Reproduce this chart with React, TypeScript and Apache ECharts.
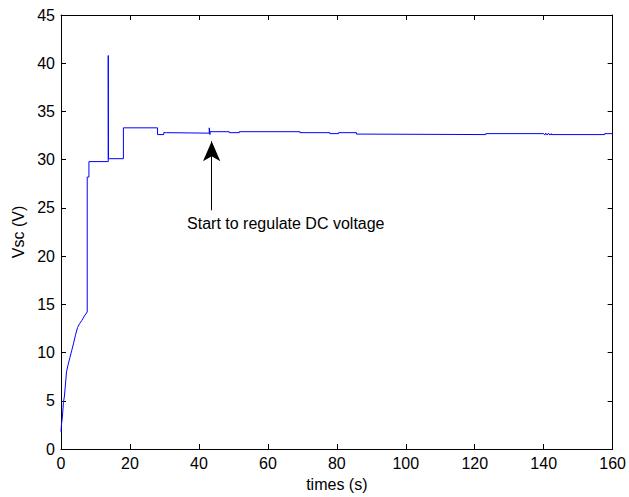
import React, { useEffect, useRef } from "react";
import * as echarts from "echarts";

const timeS: number[] = [
  0, 0.15, 0.4, 0.7, 1.0, 1.6, 2.1, 2.6, 3.1, 3.6, 4.2, 4.8, 5.4, 6.0, 6.8, 7.6,
  7.6, 8.1, 8.1, 13.7, 13.7, 13.75, 18.1, 18.1, 28.0, 28.0, 29.8, 29.8, 30.6, 30.6,
  43.0, 43.0, 43.2, 43.2, 43.4, 43.4, 48.8, 48.8, 51.7, 51.7, 69.3, 69.3, 78.0, 78.0,
  80.5, 80.5, 85.7, 85.7, 88.4, 88.4, 123.2, 123.2, 140.0, 140.3, 140.6, 141.0, 141.4,
  141.8, 142.2, 142.2, 157.7, 157.7, 160,
];
const voltageV: number[] = [
  1.8, 2.6, 3.3, 4.8, 5.5, 8.0, 8.8, 9.5, 10.2, 10.9, 11.8, 12.6, 13.0, 13.3, 13.8, 14.2,
  28.2, 28.2, 29.8, 29.8, 40.8, 30.1, 30.1, 33.3, 33.3, 32.6, 32.6, 32.8, 32.8, 32.75,
  32.75, 33.3, 32.6, 32.9, 32.9, 32.9, 32.9, 32.8, 32.8, 32.9, 32.9, 32.8, 32.8, 32.7,
  32.7, 32.8, 32.8, 32.65, 32.65, 32.6, 32.6, 32.7, 32.7, 32.55, 32.75, 32.55, 32.75,
  32.55, 32.7, 32.6, 32.6, 32.7, 32.7,
];

const xTicks = { min: 0, max: 160, interval: 20 };
const yTicks = { min: 0, max: 45, interval: 5 };

const arrowFrom: [number, number] = [43.7, 24.75];
const arrowTo: [number, number] = [43.7, 31.9];
const noteText = "Start to regulate DC voltage";
const noteAt: [number, number] = [65.2, 23.4];

const FONT = "'Liberation Sans', Arial, sans-serif";

export default function App() {
  const ref = useRef<HTMLDivElement>(null);
  useEffect(() => {
    if (!ref.current) return;
    const chart = echarts.init(ref.current, null, { renderer: "svg" });
    const axisCommon = {
      axisLine: { show: true, onZero: false, lineStyle: { color: "#000", width: 1 } },
      axisTick: { show: true, inside: true, length: 5, lineStyle: { color: "#000" } },
      splitLine: { show: false },
    };
    const labelStyle = { color: "#000", fontSize: 16, fontFamily: FONT };
    chart.setOption({
      animation: false,
      backgroundColor: "#fff",
      textStyle: { fontFamily: FONT },
      grid: { left: 61, right: 14, top: 15, bottom: 45, containLabel: false },
      xAxis: [
        {
          type: "value",
          ...xTicks,
          ...axisCommon,
          axisLabel: { ...labelStyle, margin: 6, showMaxLabel: true, showMinLabel: true },
          name: "times (s)",
          nameLocation: "middle",
          nameGap: 27,
          nameTextStyle: labelStyle,
        },
        {
          type: "value",
          position: "top",
          ...xTicks,
          ...axisCommon,
          axisLabel: { show: false },
        },
      ],
      yAxis: [
        {
          type: "value",
          ...yTicks,
          ...axisCommon,
          axisLabel: { ...labelStyle, margin: 6 },
          name: "Vsc (V)",
          nameLocation: "middle",
          nameGap: 33,
          nameRotate: 90,
          nameTextStyle: labelStyle,
        },
        {
          type: "value",
          position: "right",
          ...yTicks,
          ...axisCommon,
          axisLabel: { show: false },
        },
      ],
      series: [
        {
          type: "line",
          data: timeS.map((t, i) => [t, voltageV[i]]),
          showSymbol: false,
          symbol: "none",
          lineStyle: { color: "#0000ff", width: 1 },
          itemStyle: { color: "#0000ff" },
          markLine: {
            silent: true,
            symbol: ["none", "arrow"],
            symbolSize: [13, 20],
            label: { show: false },
            lineStyle: { color: "#000", width: 1, type: "solid" },
            data: [[{ coord: arrowFrom }, { coord: arrowTo }]],
          },
          markPoint: {
            silent: true,
            symbol: "circle",
            symbolSize: 0,
            data: [
              {
                coord: noteAt,
                label: {
                  show: true,
                  position: "inside",
                  formatter: noteText,
                  ...labelStyle,
                },
              },
            ],
          },
        },
      ],
    });
    return () => chart.dispose();
  }, []);
  return (
    <div
      ref={ref}
      style={{ position: "fixed", left: 0, top: 0, width: 629, height: 497 }}
    />
  );
}
